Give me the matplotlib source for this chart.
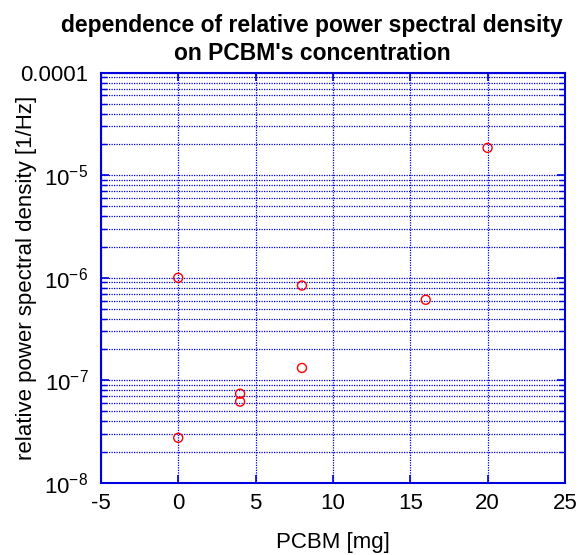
import matplotlib
matplotlib.use("Agg")
import matplotlib.pyplot as plt
from matplotlib.ticker import FixedLocator, FixedFormatter, LogLocator, NullFormatter

plt.rcParams['font.family'] = ['Liberation Sans', 'DejaVu Sans']
plt.rcParams['mathtext.fontset'] = 'custom'
plt.rcParams['mathtext.rm'] = 'Liberation Sans'
plt.rcParams['mathtext.it'] = 'Liberation Sans'
plt.rcParams['axes.unicode_minus'] = False

# PCBM concentration vs relative PSD
pcbm = [0, 0, 4, 4, 8, 8, 16, 20]
psd = [1.0e-6, 2.75e-8, 7.4e-8, 6.2e-8, 8.4e-7, 1.32e-7, 6.1e-7, 1.85e-5]

xticks = [-5, 0, 5, 10, 15, 20, 25]
yticks = [1e-8, 1e-7, 1e-6, 1e-5, 1e-4]
ylabels = ['$\\mathregular{10^{-8}}$', '$\\mathregular{10^{-7}}$', '$\\mathregular{10^{-6}}$',
           '$\\mathregular{10^{-5}}$', '0.0001']
title_lines = ["dependence of relative power spectral density", "on PCBM's concentration"]

fig = plt.figure(figsize=(5.83, 5.55), dpi=100)
ax = fig.add_axes([0.173, 0.130, 0.796, 0.739])

ax.scatter(pcbm, psd, s=42, facecolors='none', edgecolors='red', linewidths=1.0, zorder=3)

ax.set_yscale('log')
ax.set_xlim(-5, 25)
ax.set_ylim(1e-8, 1e-4)

ax.xaxis.set_major_locator(FixedLocator(xticks))
ax.yaxis.set_major_locator(FixedLocator(yticks))
ax.yaxis.set_major_formatter(FixedFormatter(ylabels))
ax.yaxis.set_minor_locator(LogLocator(base=10, subs=range(2, 10)))
ax.yaxis.set_minor_formatter(NullFormatter())

blue = '#0000dd'
for s in ax.spines.values():
    s.set_color(blue)
    s.set_linewidth(1.5)
ax.tick_params(which='both', direction='in', colors=blue, labelcolor='black', labelsize=16,
               top=True, right=True)
ax.tick_params(which='major', length=6, width=1.2)
ax.tick_params(which='minor', length=4, width=1.0)
ax.tick_params(axis='x', pad=7)
ax.tick_params(axis='y', pad=9)

ax.grid(True, which='major', axis='both', color=blue, linestyle=(0, (1, 1)), linewidth=0.9)
ax.grid(True, which='minor', axis='y', color=blue, linestyle=(0, (1, 1)), linewidth=0.9)

ax.set_xlabel('PCBM [mg]', fontsize=16, labelpad=13)
ax.set_ylabel('relative power spectral density [1/Hz]', fontsize=16)
ax.yaxis.set_label_coords(-0.138, 0.5)

# two title lines, centred a little left of the axes centre like the original
fig.text(0.535, 1 - 32 / 555, title_lines[0], ha='center', va='baseline',
         fontsize=16.5, fontweight='bold')
fig.text(0.535, 1 - 60 / 555, title_lines[1], ha='center', va='baseline',
         fontsize=16.5, fontweight='bold')

fig.savefig('out.png', dpi=100)
